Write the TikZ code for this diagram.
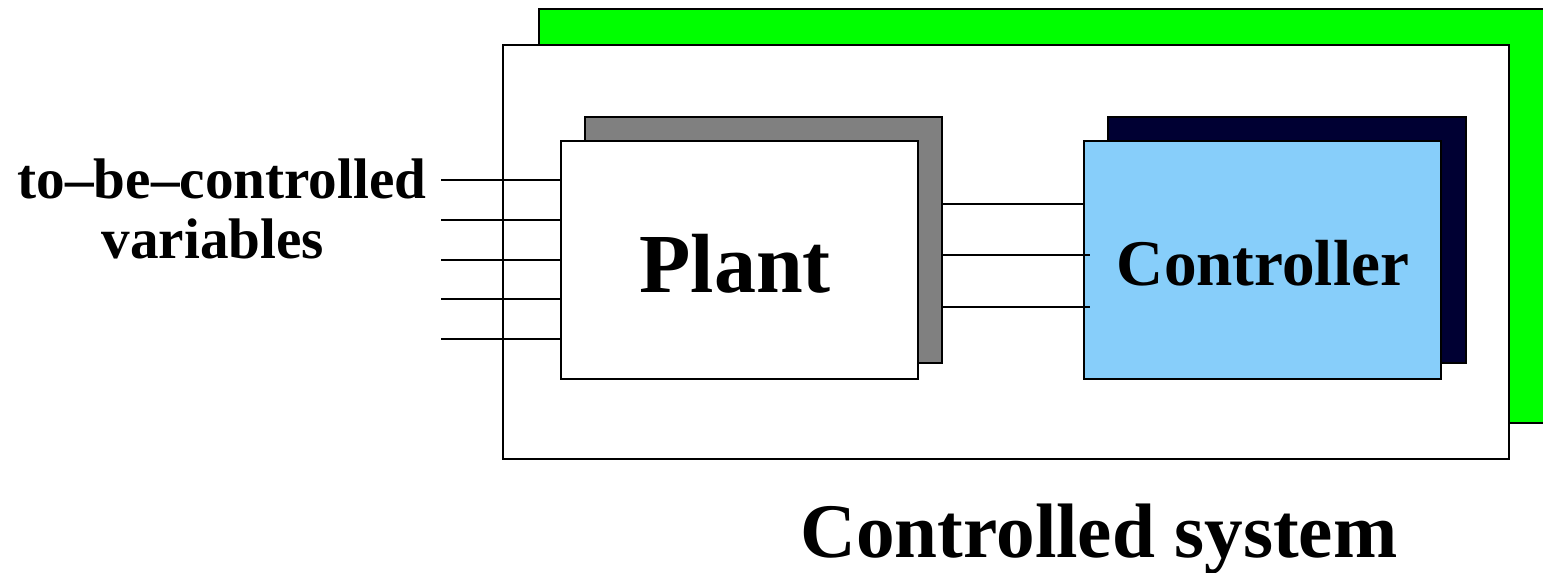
\documentclass[tikz,border=0pt]{standalone}
\usepackage{fontspec}
\setmainfont{Liberation Serif}
\definecolor{shadowgreen}{HTML}{00FF00}
\definecolor{shadowgray}{HTML}{808080}
\definecolor{shadownavy}{HTML}{000033}
\definecolor{ctrlblue}{HTML}{87CEFA}
\begin{document}
\begin{tikzpicture}[x=0.5pt,y=-0.5pt,
  box/.style={draw=black,line width=1pt,rectangle,inner sep=0pt,anchor=north west},
  wire/.style={draw=black,line width=1pt},
  lbl/.style={font=\bfseries,inner sep=0pt,anchor=base}]
\useasboundingbox (0,0) rectangle (1543,573);
% outer system with green shadow
\node[box,fill=shadowgreen,minimum width=502.5pt,minimum height=207pt] (sysshadow) at (538,8) {};
\node[box,fill=white,minimum width=503pt,minimum height=207pt] (sys) at (502,44) {};
% plant
\node[box,fill=shadowgray,minimum width=178.5pt,minimum height=123pt] (plantshadow) at (584,116) {};
\node[box,fill=white,minimum width=178.5pt,minimum height=119pt] (plant) at (560,140) {};
% controller
\node[box,fill=shadownavy,minimum width=179pt,minimum height=123pt] (ctrlshadow) at (1107,116) {};
\node[box,fill=ctrlblue,minimum width=178.5pt,minimum height=119pt] (ctrl) at (1083,140) {};
% labels
\node[lbl,font=\bfseries\fontsize{42pt}{48pt}\selectfont] (plantlbl) at (735,292) {Plant};
\node[lbl,font=\bfseries\fontsize{32.6pt}{38pt}\selectfont] (ctrllbl) at (1263,285) {Controller};
\node[lbl,font=\bfseries\fontsize{38.6pt}{44pt}\selectfont] (syslbl) at (1099,557) {Controlled system};
\node[lbl,font=\bfseries\fontsize{28.6pt}{30pt}\selectfont] (var1) at (222,198) {to–be–controlled};
\node[lbl,font=\bfseries\fontsize{28.6pt}{30pt}\selectfont] (var2) at (213,258) {variables};
% input wires
\foreach \i/\yy in {1/180,2/219.5,3/259.5,4/299,5/338.5}{
  \coordinate (in\i) at (441,\yy);
  \draw[wire] (in\i) -- (in\i -| plant.west);
}
% plant to controller wires
\coordinate (p1) at (941,203.5);
\coordinate (p2) at (941,255);
\coordinate (p3) at (941,307);
\draw[wire] (p1) -- (p1 -| ctrl.west);
\draw[wire] (p2) -- ([xshift=3.5pt]p2 -| ctrl.west);
\draw[wire] (p3) -- ([xshift=3.5pt]p3 -| ctrl.west);
\end{tikzpicture}
\end{document}
